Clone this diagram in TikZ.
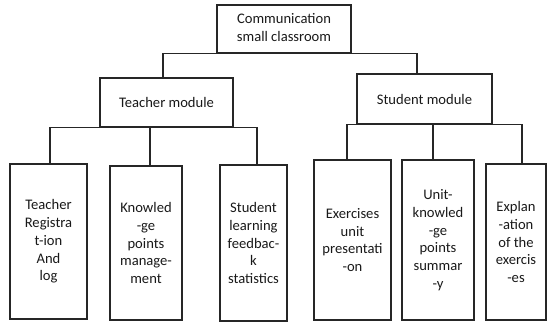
\documentclass[tikz,border=0pt]{standalone}
\usepackage{fontspec}
\setmainfont{Carlito}
\begin{document}
\begin{tikzpicture}[x=1pt,y=-1pt,
  box/.style={draw=black!85, line width=1.2pt, inner sep=0pt, align=center,
    text=black!90, font=\fontsize{14.6}{17.7}\selectfont},
  conn/.style={draw=black!85, line width=1.2pt}]
\useasboundingbox (0,0) rectangle (547,322);
\node[box, minimum width=134pt, minimum height=48pt] (top) at (284,29) {\raisebox{3pt}{\begin{tabular}{@{}c@{}}Communication\\small classroom\end{tabular}}};
\node[box, minimum width=133pt, minimum height=49pt] (tm) at (166.5,102.5) {Teacher module};
\node[box, minimum width=135pt, minimum height=50pt] (sm) at (424.5,99) {Student module};
\node[box, minimum width=77pt, minimum height=155pt] (b1) at (48.5,241.5) {Teacher\\Registra\\t-ion\\And\\log};
\node[box, minimum width=72pt, minimum height=154pt] (b2) at (146,243) {Knowled\\-ge\\points\\manage-\\ment};
\node[box, minimum width=67pt, minimum height=156pt] (b3) at (253.5,243) {Student\\learning\\feedbac-\\k\\statistics};
\node[box, minimum width=77pt, minimum height=160pt] (b4) at (352.5,240) {Exercises\\unit\\presentati\\-on};
\node[box, minimum width=72pt, minimum height=160pt] (b5) at (438,240) {Unit-\\knowled\\-ge\\points\\summar\\-y};
\node[box, minimum width=60pt, minimum height=156pt] (b6) at (516,242) {Explan\\-ation\\of the\\exercis\\-es};
% top level
\draw[conn] ([xshift=-3.5pt]tm.north) |- (top.south);
\draw[conn] ([xshift=-7.5pt]sm.north) |- (top.south);
% teacher
\draw[conn] ([xshift=1.5pt]b1.north) |- (tm.south);
\draw[conn] ([xshift=3.5pt]b3.north) |- (tm.south);
\draw[conn] ([xshift=4pt]b2.north) -- ([xshift=4pt]b2.north |- tm.south);
% student
\draw[conn] ([xshift=-5.5pt]b4.north) |- (sm.south);
\draw[conn] ([xshift=6pt]b6.north) |- (sm.south);
\draw[conn] ([xshift=-5pt]b5.north) -- ([xshift=-5pt]b5.north |- sm.south);
\end{tikzpicture}
\end{document}
